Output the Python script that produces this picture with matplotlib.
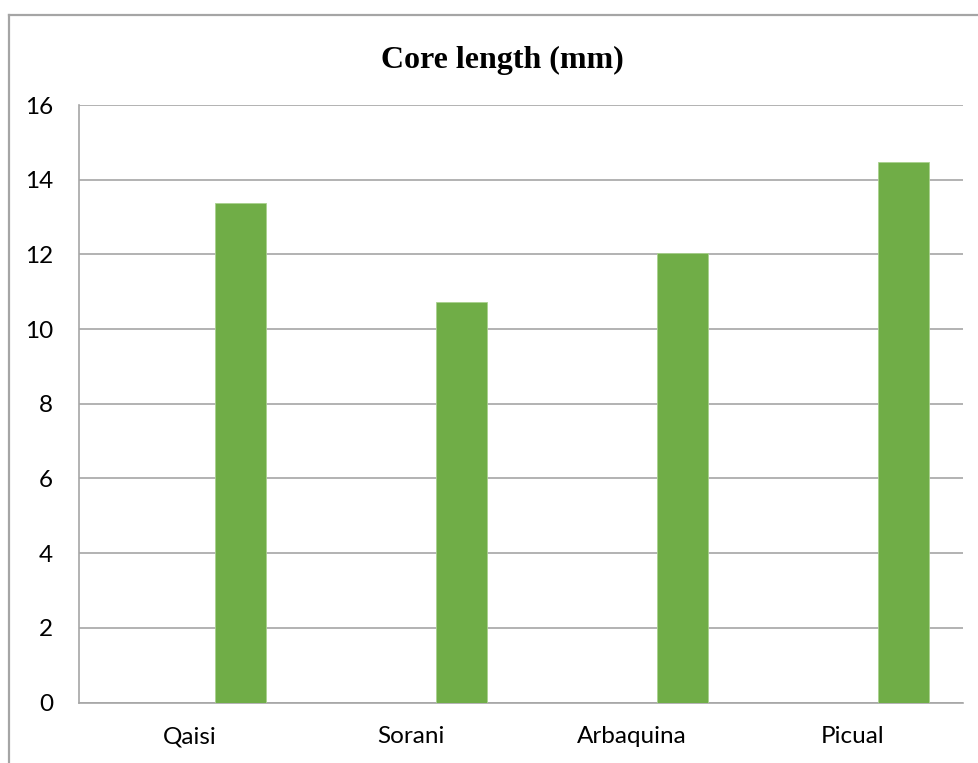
import matplotlib
matplotlib.use("Agg")
import matplotlib.pyplot as plt
from matplotlib.lines import Line2D

# Core length per olive cultivar
cultivars = ["Qaisi", "Sorani", "Arbaquina", "Picual"]
core_length = [13.37, 10.73, 12.03, 14.48]
y_ticks = [0, 2, 4, 6, 8, 10, 12, 14, 16]

bar_color = "#70AD47"
grid_color = "#A6A6A6"

fig = plt.figure(figsize=(9.79, 7.63), dpi=100)
fig.patch.set_facecolor("white")

# Frame around the chart area (top and left edges)
fig.add_artist(Line2D([9 / 979, 1.0], [1 - 14.7 / 763, 1 - 14.7 / 763],
                      transform=fig.transFigure, color="#A5A5A5", lw=1.6))
fig.add_artist(Line2D([9 / 979, 9 / 979], [0.0, 1 - 14.7 / 763],
                      transform=fig.transFigure, color="#A5A5A5", lw=1.6))

ax = fig.add_axes([78.7 / 979, 1 - 702.5 / 763,
                   (963.3 - 78.7) / 979, (702.5 - 105) / 763])

bar_w = 0.231
x = list(range(len(cultivars)))
ax.bar([i + bar_w for i in x], core_length, width=bar_w, color=bar_color,
       edgecolor="#A9D18E", linewidth=0.6, zorder=3)

ax.set_xlim(-0.5, len(cultivars) - 0.5)
ax.set_ylim(0, 16)
ax.set_yticks(y_ticks)
ax.set_yticklabels([str(t) for t in y_ticks])
ax.set_xticks(x)
ax.set_xticklabels(cultivars)

ax.yaxis.grid(True, color=grid_color, lw=1.2, zorder=0)
ax.set_axisbelow(True)

for side in ("top", "right"):
    ax.spines[side].set_visible(False)
for side in ("left", "bottom"):
    ax.spines[side].set_color(grid_color)
    ax.spines[side].set_linewidth(1.2)

ax.tick_params(axis="both", length=0, labelsize=17.5, colors="black")
ax.tick_params(axis="y", pad=18.5)
ax.tick_params(axis="x", pad=17)
for lbl in ax.get_xticklabels() + ax.get_yticklabels():
    lbl.set_family(["Lato", "DejaVu Sans"])

fig.text(502 / 979, 1 - 60 / 763, "Core length (mm)", ha="center", va="center",
         fontsize=23, fontweight="bold", family=["Liberation Serif", "DejaVu Serif"])

fig.savefig("out.png", dpi=100, facecolor="white")
